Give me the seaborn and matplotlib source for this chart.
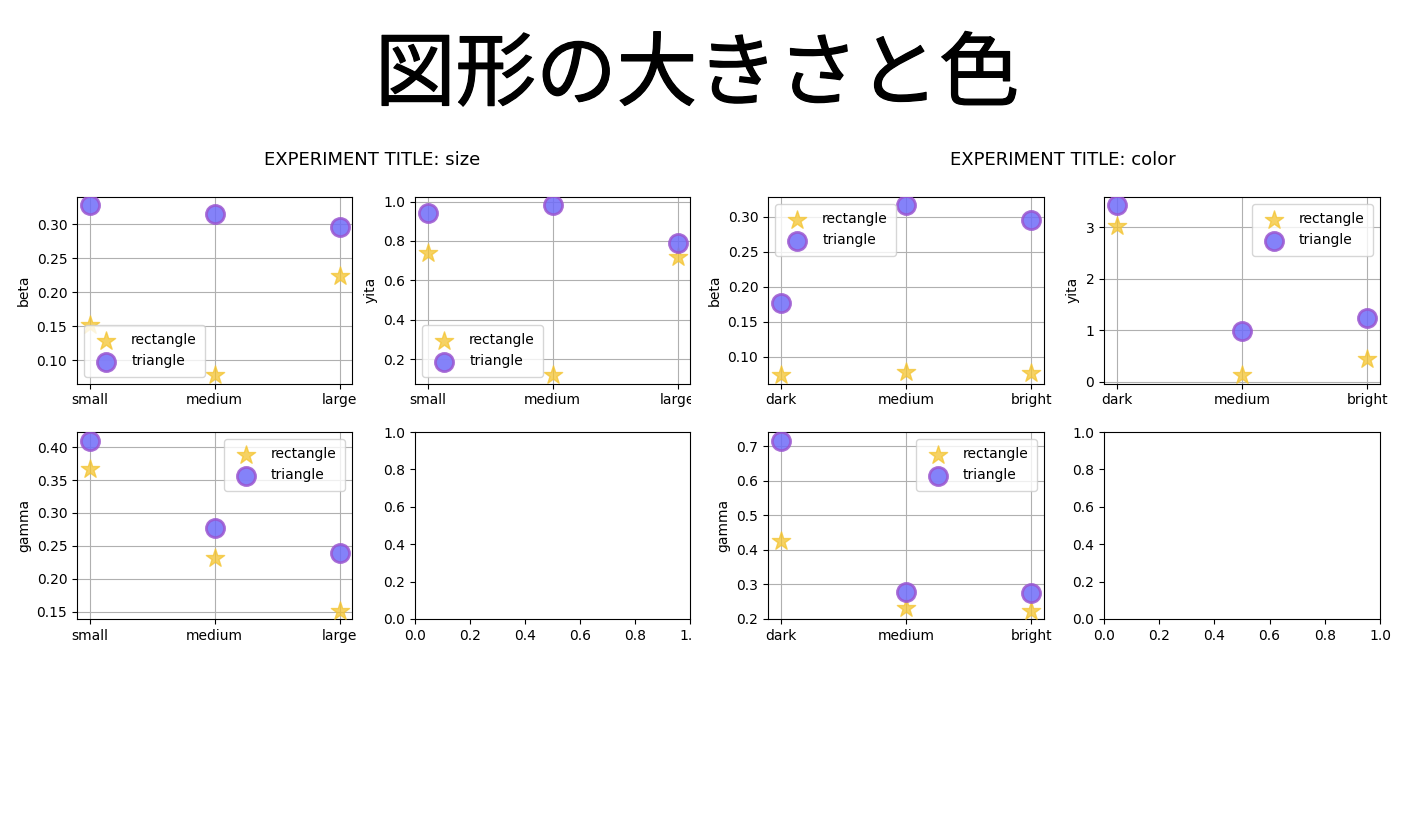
import matplotlib
matplotlib.use("Agg")
import matplotlib.pyplot as plt
import matplotlib.patheffects as pe
import seaborn as sns
import pandas as pd
from matplotlib.transforms import Bbox, TransformedBbox, IdentityTransform

# ---------------- data ----------------
size_cats = ["small", "medium", "large"]
color_cats = ["dark", "medium", "bright"]

size_beta_rect = [0.152, 0.078, 0.224]
size_beta_tri = [0.328, 0.316, 0.296]
size_yita_rect = [0.74, 0.12, 0.72]
size_yita_tri = [0.94, 0.98, 0.79]
size_gamma_rect = [0.367, 0.232, 0.152]
size_gamma_tri = [0.410, 0.277, 0.239]

color_beta_rect = [0.074, 0.079, 0.077]
color_beta_tri = [0.177, 0.316, 0.295]
color_yita_rect = [3.02, 0.13, 0.45]
color_yita_tri = [3.42, 0.98, 1.23]
color_gamma_rect = [0.427, 0.232, 0.224]
color_gamma_tri = [0.717, 0.278, 0.275]

series_labels = ["rectangle", "triangle"]
main_title = "図形の大きさと色"
sub_titles = ["EXPERIMENT TITLE: size", "EXPERIMENT TITLE: color"]

# ---------------- figure ----------------
W, H = 1402, 823
fig = plt.figure(figsize=(W / 100, H / 100), dpi=100)


def px_axes(x0, y0, x1, y1):
    return fig.add_axes([x0 / W, (H - y1) / H, (x1 - x0) / W, (y1 - y0) / H])


def panel(ax, cats, rect, tri, ylabel, loc):
    df_r = pd.DataFrame({"x": cats, "y": rect})
    df_t = pd.DataFrame({"x": cats, "y": tri})
    sns.scatterplot(data=df_r, x="x", y="y", ax=ax, marker="*", s=190,
                    color="#F4C430", alpha=0.75, edgecolor="#F4C430",
                    linewidth=1.0, label=series_labels[0], zorder=3)
    sns.scatterplot(data=df_t, x="x", y="y", ax=ax, marker="o", s=170,
                    color="#6F6CF8", alpha=0.85, edgecolor="#9A55D0",
                    linewidth=2.0, label=series_labels[1], zorder=3)
    ax.set_xlabel("")
    ax.set_ylabel(ylabel, fontsize=10)
    ax.grid(True, color="#b0b0b0", linewidth=0.8)
    ax.set_axisbelow(True)
    ax.legend(loc=loc, fontsize=10, borderpad=0.6, labelspacing=0.5)
    ax.tick_params(labelsize=10)


top = (197, 383.5)
bot = (432, 619)
lc = [(77, 352), (415, 690)]
rc = [(768, 1044), (1104, 1380)]

ax1 = px_axes(lc[0][0], top[0], lc[0][1], top[1])
panel(ax1, size_cats, size_beta_rect, size_beta_tri, "beta", "lower left")
ax2 = px_axes(lc[1][0], top[0], lc[1][1], top[1])
panel(ax2, size_cats, size_yita_rect, size_yita_tri, "yita", "lower left")
ax3 = px_axes(lc[0][0], bot[0], lc[0][1], bot[1])
panel(ax3, size_cats, size_gamma_rect, size_gamma_tri, "gamma", "upper right")
ax4 = px_axes(lc[1][0], bot[0], lc[1][1], bot[1])

ax5 = px_axes(rc[0][0], top[0], rc[0][1], top[1])
panel(ax5, color_cats, color_beta_rect, color_beta_tri, "beta", "upper left")
ax6 = px_axes(rc[1][0], top[0], rc[1][1], top[1])
panel(ax6, color_cats, color_yita_rect, color_yita_tri, "yita", "upper right")
ax7 = px_axes(rc[0][0], bot[0], rc[0][1], bot[1])
panel(ax7, color_cats, color_gamma_rect, color_gamma_tri, "gamma", "upper right")
ax8 = px_axes(rc[1][0], bot[0], rc[1][1], bot[1])

# clip tick labels of the left group's right column at its edge
clipbox = TransformedBbox(Bbox([[0, 0], [691, H]]), IdentityTransform())
fig.canvas.draw()
for ax in (ax2, ax4):
    for t in ax.get_xticklabels():
        t.set_clip_box(clipbox)
        t.set_clip_on(True)

fig.text(372 / W, 1 - 160 / H, sub_titles[0], ha="center", va="center", fontsize=13)
fig.text(1063 / W, 1 - 160 / H, sub_titles[1], ha="center", va="center", fontsize=13)
fig.text(697 / W, 1 - 76 / H, main_title, ha="center", va="center", fontsize=58,
         family=["Noto Sans CJK JP", "DejaVu Sans"],
         path_effects=[pe.withStroke(linewidth=0.9, foreground="black")])

fig.savefig("out.png", dpi=100)
